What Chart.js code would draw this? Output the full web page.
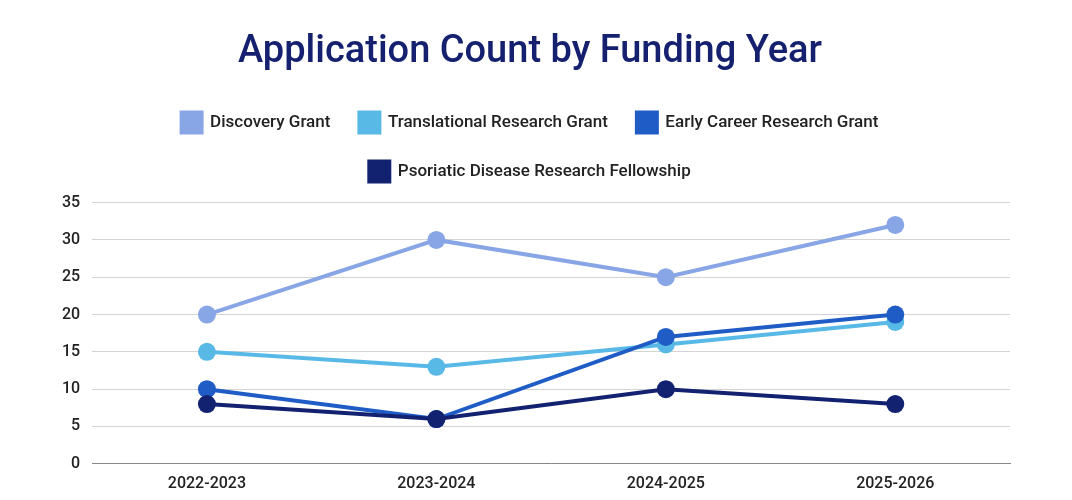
<!DOCTYPE html>
<html>
<head>
<meta charset="utf-8">
<script src="https://cdn.jsdelivr.net/npm/chart.js@4"></script>
<style>
  html, body { margin: 0; padding: 0; background: #fff; }
  #wrap { width: 1072px; height: 500px; position: relative; }
</style>
</head>
<body>
<div id="wrap"><canvas id="chart"></canvas></div>
<script>
const years = ["2022-2023", "2023-2024", "2024-2025", "2025-2026"];
const discovery = [20, 30, 25, 32];
const translational = [15, 13, 16, 19];
const earlyCareer = [10, 6, 17, 20];
const psoriatic = [8, 6, 10, 8];

const fontFamily = "Roboto, 'Noto Sans', sans-serif";

function series(label, data, color, order) {
  return {
    label: label,
    data: data,
    borderColor: color,
    backgroundColor: color,
    borderWidth: 4,
    pointRadius: 9,
    pointHoverRadius: 9,
    pointBorderWidth: 0,
    fill: false,
    tension: 0,
    order: order
  };
}

// push the plot area down a little below the legend
const legendGap = {
  id: "legendGap",
  beforeInit(chart) {
    const fit = chart.legend.fit;
    chart.legend.fit = function () {
      fit.call(this);
      this.height += 11;
    };
  }
};

const ctx = document.getElementById("chart").getContext("2d");
new Chart(ctx, {
  type: "line",
  data: {
    labels: years,
    datasets: [
      series("Discovery Grant", discovery, "#88a6e6", 4),
      series("Translational Research Grant", translational, "#58b9e6", 3),
      series("Early Career Research Grant", earlyCareer, "#1f5cc6", 2),
      series("Psoriatic Disease Research Fellowship", psoriatic, "#132171", 1)
    ]
  },
  options: {
    responsive: true,
    maintainAspectRatio: false,
    animation: false,
    layout: { padding: { left: 50, right: 62, top: 20, bottom: 3 } },
    plugins: {
      title: {
        display: true,
        text: "Application Count by Funding Year",
        color: "#15216e",
        font: { family: fontFamily, size: 38, weight: "500" },
        padding: { top: 10, bottom: 8 }
      },
      legend: {
        position: "top",
        labels: {
          boxWidth: 20,
          boxHeight: 20,
          padding: 29,
          color: "#222",
          font: { family: fontFamily, size: 17, weight: "500" },
          sort: (a, b) => a.datasetIndex - b.datasetIndex
        }
      },
      tooltip: { enabled: false }
    },
    scales: {
      x: {
        offset: true,
        grid: { display: false },
        border: { color: "#888" },
        ticks: { color: "#222", font: { family: fontFamily, size: 16, weight: "500" }, padding: 3 }
      },
      y: {
        min: 0,
        max: 35,
        ticks: { stepSize: 5, color: "#222", font: { family: fontFamily, size: 16, weight: "500" }, padding: 12 },
        grid: { color: "#d4d4d4", lineWidth: 1, drawTicks: false },
        border: { display: false }
      }
    }
  },
  plugins: [legendGap]
});
</script>
</body>
</html>
